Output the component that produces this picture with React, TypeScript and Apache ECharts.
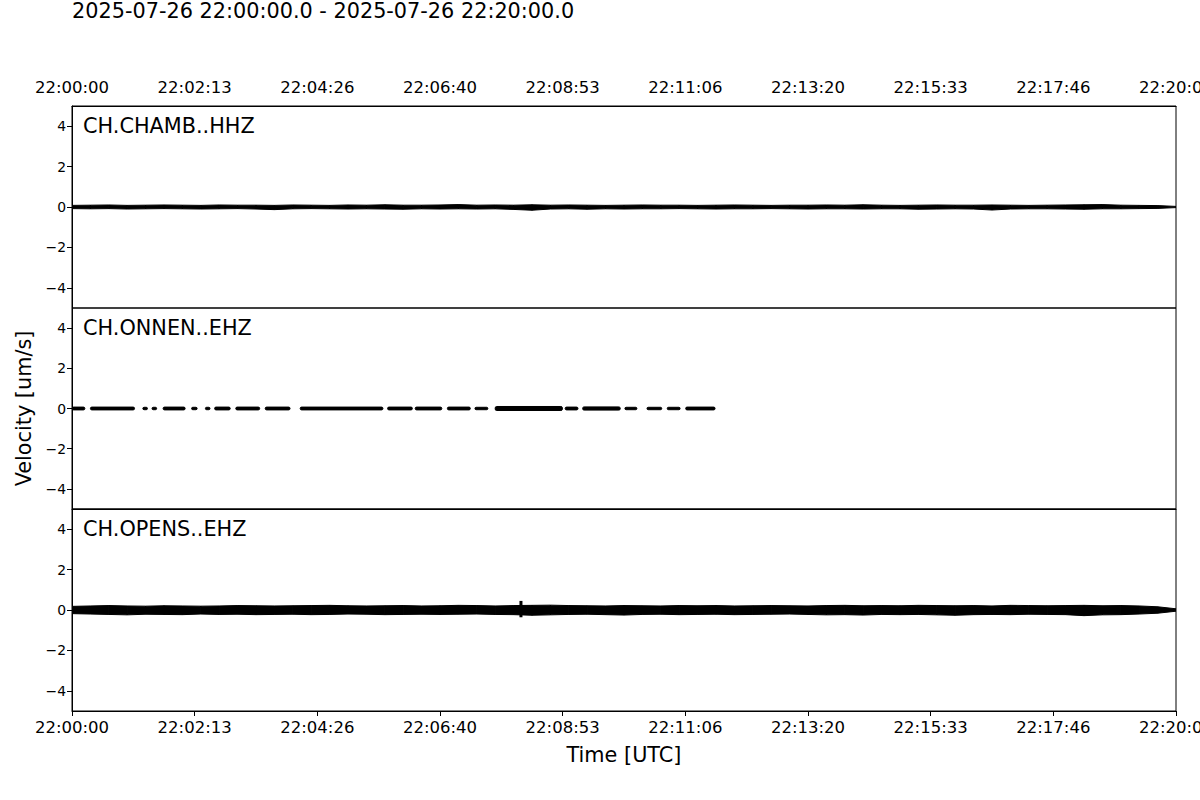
import React, { useEffect, useRef } from "react";
import * as echarts from "echarts";

// ---- data ----
const TITLE = "2025-07-26 22:00:00.0 - 2025-07-26 22:20:00.0";
const STATIONS = ["CH.CHAMB..HHZ", "CH.ONNEN..EHZ", "CH.OPENS..EHZ"];
const START_HOUR = 22;
const DURATION = 1200; // seconds
const Y_TICKS = [-4, -2, 0, 2, 4];
const STEP = 20; // seconds between envelope samples
const TIMES = Array.from({ length: DURATION / STEP + 1 }, (_, i) => i * STEP);

// CH.CHAMB..HHZ envelope (um/s), one value every 20 s
const CHAMB_HI = [0.08,0.09,0.10,0.08,0.09,0.10,0.09,0.08,0.10,0.09,0.09,0.08,0.10,0.09,0.08,0.10,0.09,0.11,0.09,0.09,0.10,0.12,0.09,0.10,0.09,0.11,0.09,0.10,0.09,0.08,0.09,0.10,0.09,0.09,0.08,0.09,0.10,0.09,0.08,0.09,0.09,0.10,0.09,0.11,0.09,0.08,0.09,0.10,0.09,0.09,0.10,0.09,0.08,0.09,0.10,0.11,0.12,0.09,0.08,0.07,0.03];
const CHAMB_LO = [-0.08,-0.09,-0.08,-0.10,-0.09,-0.08,-0.09,-0.10,-0.09,-0.08,-0.10,-0.13,-0.09,-0.08,-0.09,-0.10,-0.09,-0.10,-0.11,-0.09,-0.10,-0.09,-0.10,-0.09,-0.12,-0.16,-0.10,-0.09,-0.11,-0.09,-0.10,-0.09,-0.09,-0.08,-0.09,-0.10,-0.09,-0.09,-0.08,-0.09,-0.10,-0.09,-0.09,-0.10,-0.09,-0.09,-0.11,-0.10,-0.09,-0.10,-0.15,-0.10,-0.09,-0.09,-0.10,-0.11,-0.09,-0.09,-0.08,-0.07,-0.03];

// CH.ONNEN..EHZ data segments: [start s, end s, half amplitude um/s]
const ONNEN_SEGMENTS = [
  [0, 14, 0.07], [20, 68, 0.07], [77, 82, 0.06], [87, 92, 0.06], [99, 123, 0.07],
  [130, 136, 0.06], [145, 150, 0.06], [155, 172, 0.07], [178, 204, 0.07], [210, 237, 0.07],
  [248, 338, 0.07], [343, 370, 0.07], [373, 402, 0.07], [408, 433, 0.07], [438, 452, 0.06],
  [460, 533, 0.1], [536, 550, 0.07], [555, 596, 0.08], [601, 614, 0.06], [625, 641, 0.06],
  [647, 661, 0.06], [667, 699, 0.07],
];

// CH.OPENS..EHZ envelope (um/s), one value every 20 s
const OPENS_HI = [0.18,0.20,0.22,0.20,0.19,0.21,0.20,0.19,0.20,0.22,0.21,0.20,0.21,0.22,0.23,0.21,0.20,0.21,0.22,0.20,0.21,0.23,0.22,0.20,0.22,0.23,0.24,0.22,0.21,0.20,0.22,0.21,0.20,0.22,0.21,0.22,0.20,0.21,0.22,0.21,0.20,0.22,0.23,0.21,0.22,0.21,0.23,0.22,0.21,0.22,0.20,0.23,0.22,0.21,0.22,0.23,0.21,0.22,0.20,0.16,0.06];
const OPENS_LO = [-0.18,-0.20,-0.22,-0.24,-0.21,-0.22,-0.23,-0.20,-0.22,-0.21,-0.23,-0.22,-0.21,-0.23,-0.22,-0.20,-0.21,-0.23,-0.22,-0.21,-0.22,-0.21,-0.20,-0.22,-0.23,-0.26,-0.24,-0.22,-0.21,-0.23,-0.25,-0.22,-0.21,-0.23,-0.22,-0.21,-0.23,-0.22,-0.21,-0.20,-0.22,-0.24,-0.23,-0.25,-0.22,-0.23,-0.22,-0.24,-0.26,-0.23,-0.22,-0.23,-0.21,-0.22,-0.23,-0.28,-0.24,-0.23,-0.20,-0.16,-0.06];
// short transient on OPENS: [time s, min, max]
const OPENS_SPIKES = [[488, -0.36, 0.45]];

const FONT = "DejaVu Sans";

function fmtTime(v: number) {
  const s = Math.floor(v + 1e-6);
  const h = START_HOUR + Math.floor(s / 3600);
  const m = Math.floor((s % 3600) / 60);
  const sec = s % 60;
  const p = (n: number) => String(n).padStart(2, "0");
  return `${p(h)}:${p(m)}:${p(sec)}`;
}

function envelopeSeries(gridIdx: number, hi: number[], lo: number[]) {
  return {
    type: "custom",
    xAxisIndex: gridIdx,
    yAxisIndex: gridIdx,
    clip: true,
    data: TIMES.map((t, i) => [t, lo[i], hi[i]]),
    encode: { x: 0, y: [1, 2] },
    renderItem: (params: any, api: any) => {
      const i = params.dataIndex;
      if (i >= TIMES.length - 1) return null;
      const a = api.coord([TIMES[i], hi[i]]);
      const b = api.coord([TIMES[i + 1], hi[i + 1]]);
      const c = api.coord([TIMES[i + 1], lo[i + 1]]);
      const d = api.coord([TIMES[i], lo[i]]);
      return {
        type: "polygon",
        shape: { points: [a, b, c, d] },
        style: { fill: "#000", stroke: "#000", lineWidth: 1 },
      };
    },
  };
}

function segmentSeries(gridIdx: number, segs: number[][]) {
  return {
    type: "custom",
    xAxisIndex: gridIdx,
    yAxisIndex: gridIdx,
    clip: true,
    data: segs,
    encode: { x: [0, 1], y: 2 },
    renderItem: (params: any, api: any) => {
      const s = api.value(0), e = api.value(1), a = api.value(2);
      const p0 = api.coord([s, a]);
      const p1 = api.coord([e, -a]);
      return {
        type: "rect",
        shape: { x: p0[0], y: p0[1], width: Math.max(p1[0] - p0[0], 1), height: p1[1] - p0[1], r: 1.5 },
        style: { fill: "#000", stroke: "#000", lineWidth: 1 },
      };
    },
  };
}

function spikeSeries(gridIdx: number, spikes: number[][]) {
  return {
    type: "custom",
    xAxisIndex: gridIdx,
    yAxisIndex: gridIdx,
    clip: true,
    data: spikes,
    encode: { x: 0, y: [1, 2] },
    renderItem: (params: any, api: any) => {
      const t = api.value(0);
      const p0 = api.coord([t, api.value(2)]);
      const p1 = api.coord([t, api.value(1)]);
      return {
        type: "rect",
        shape: { x: p0[0] - 1.5, y: p0[1], width: 3, height: p1[1] - p0[1] },
        style: { fill: "#000" },
      };
    },
  };
}

export default function App() {
  const ref = useRef<HTMLDivElement>(null);
  useEffect(() => {
    document.body.style.margin = "0";
    const chart = echarts.init(ref.current!, null, { renderer: "svg" });
    const tops = [106, 308, 509];
    const heights = [202, 201, 202];
    const grids = tops.map((top, i) => ({
      left: 72,
      width: 1104,
      top,
      height: heights[i],
      show: true,
      borderColor: "#000",
      borderWidth: 1,
      backgroundColor: "transparent",
      containLabel: false,
      outerBoundsMode: "none",
    }));
    const xAxes = [0, 1, 2].map((i) => ({
      type: "value",
      gridIndex: i,
      min: 0,
      max: DURATION,
      interval: DURATION / 9,
      position: i === 0 ? "top" : "bottom",
      splitLine: { show: false },
      axisLine: { show: true, onZero: false, lineStyle: { color: "#000", width: 1 } },
      axisTick: {
        show: i === 2,
        inside: false,
        length: 5,
        lineStyle: { color: "#000" },
      },
      axisLabel: {
        show: i !== 1,
        formatter: fmtTime,
        color: "#000",
        fontFamily: FONT,
        fontSize: 16.5,
        margin: i === 0 ? 10 : 8,
        showMinLabel: true,
        showMaxLabel: true,
        hideOverlap: false,
      },
      name: i === 2 ? "Time [UTC]" : "",
      nameLocation: "middle",
      nameGap: 33,
      nameTextStyle: { fontFamily: FONT, fontSize: 20.8, color: "#000" },
    }));
    const yAxes = [0, 1, 2].map((i) => ({
      type: "value",
      gridIndex: i,
      min: -5,
      max: 5,
      splitLine: { show: false },
      axisLine: { show: true, onZero: false, lineStyle: { color: "#000", width: 1 } },
      axisTick: {
        show: true,
        length: 5,
        lineStyle: { color: "#000" },
        customValues: Y_TICKS,
      },
      axisLabel: {
        color: "#000",
        fontFamily: FONT,
        fontSize: 13.9,
        margin: 6,
        customValues: Y_TICKS,
        formatter: (v: number) => String(v).replace("-", "\u2212"),
      },
      name: i === 1 ? "Velocity [um/s]" : "",
      nameLocation: "middle",
      nameGap: 37,
      nameRotate: 90,
      nameTextStyle: { fontFamily: FONT, fontSize: 20.8, color: "#000" },
    }));
    const stationTexts = STATIONS.map((s, i) => ({
      type: "text",
      x: 83,
      y: tops[i] + 20,
      style: {
        text: s,
        font: `20.8px '${FONT}'`,
        fill: "#000",
        verticalAlign: "middle",
        align: "left",
      },
    }));
    chart.setOption({
      animation: false,
      backgroundColor: "#fff",
      grid: grids,
      xAxis: xAxes,
      yAxis: yAxes,
      graphic: [
        {
          type: "text",
          x: 72,
          y: 11,
          style: {
            text: TITLE,
            font: `20.8px '${FONT}'`,
            fill: "#000",
            verticalAlign: "middle",
            align: "left",
          },
        },
        ...stationTexts,
      ],
      series: [
        envelopeSeries(0, CHAMB_HI, CHAMB_LO),
        segmentSeries(1, ONNEN_SEGMENTS),
        envelopeSeries(2, OPENS_HI, OPENS_LO),
        spikeSeries(2, OPENS_SPIKES),
      ],
    });
    return () => chart.dispose();
  }, []);
  return <div ref={ref} style={{ width: 1200, height: 800 }} />;
}
